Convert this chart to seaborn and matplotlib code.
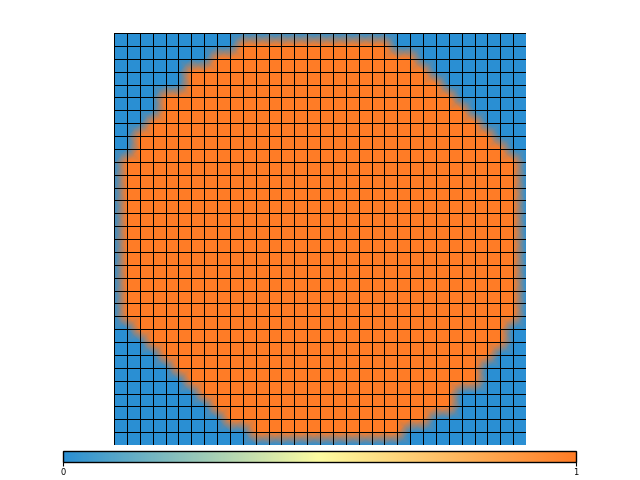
import numpy as np
import matplotlib
matplotlib.use("Agg")
import matplotlib.pyplot as plt
import seaborn as sns
from matplotlib.colors import LinearSegmentedColormap

# Vertex mask: for every grid-line row (0..32),
# the first and last grid-line column that is inside the shape (None = empty row)
first_col = [None, 10, 8, 6, 6, 4, 4, 3, 2, 2, 1, 1, 1, 1, 1, 1, 1,
             1, 1, 1, 1, 1, 1, 2, 3, 4, 5, 6, 7, 8, 9, 11, None]
last_col = [None, 21, 23, 24, 25, 26, 27, 28, 29, 30, 31, 31, 31, 31, 31, 31, 31,
            31, 31, 31, 31, 31, 31, 30, 30, 29, 28, 28, 26, 26, 24, 22, None]
n_vertices = 33
cbar_ticks = [0, 1]
cmap_colors = ["#2a8fd3", "#fdfca0", "#ff7c26"]

# build vertex values
vertex = np.zeros((n_vertices, n_vertices))
for i, (a, b) in enumerate(zip(first_col, last_col)):
    if a is not None:
        vertex[i, a:b + 1] = 1.0

# cell values = mean of the four corners (used for the grid / colorbar)
cells = 0.25 * (vertex[:-1, :-1] + vertex[:-1, 1:] + vertex[1:, :-1] + vertex[1:, 1:])

cmap = LinearSegmentedColormap.from_list("blue_orange", cmap_colors)

fig = plt.figure(figsize=(6.4, 4.8), dpi=100)
ax = fig.add_axes([114 / 640, 35 / 480, 412 / 640, 412 / 480])
cbar_ax = fig.add_axes([63 / 640, 17.7 / 480, 513 / 640, 11 / 480])

sns.heatmap(cells, ax=ax, cmap=cmap, vmin=0, vmax=1,
            linewidths=0.7, linecolor="black",
            xticklabels=False, yticklabels=False,
            cbar_ax=cbar_ax,
            cbar_kws={"orientation": "horizontal", "ticks": cbar_ticks})

# keep only the grid lines of the heatmap mesh, colour comes from a gouraud mesh below
mesh = ax.collections[0]
mesh.set_facecolor("none")
mesh.set_linewidth(0.7)
mesh.set_zorder(2)

xv = np.arange(n_vertices)
yv = np.arange(n_vertices)
ax.pcolormesh(xv, yv, vertex, shading="gouraud", cmap=cmap, vmin=0, vmax=1,
              zorder=1, antialiased=True)
ax.set_xlim(0, n_vertices - 1)
ax.set_ylim(n_vertices - 1, 0)

# colorbar styling
cb = mesh.colorbar
cb.outline.set_linewidth(1.0)
cb.outline.set_edgecolor("black")
cbar_ax.tick_params(axis="x", labelsize=6, length=3, width=0.8, pad=1)
cbar_ax.set_xticklabels(["0", "1"])

fig.savefig("out.png", dpi=100)
